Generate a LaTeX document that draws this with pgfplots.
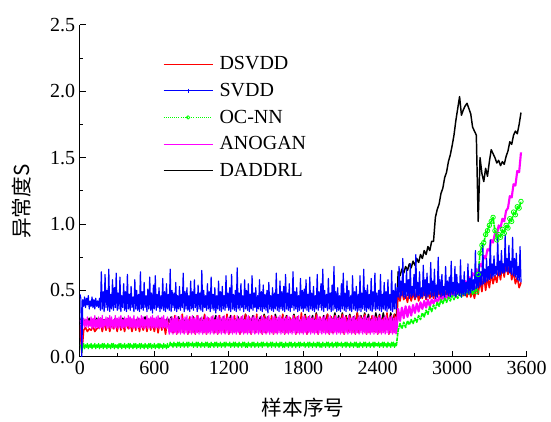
\documentclass[border=0pt]{standalone}
\usepackage{fontspec}
\setmainfont{Liberation Serif}
\newfontfamily\cjk{Noto Sans CJK SC}
\usepackage{pgfplots}
\usepackage{pgfplotstable}
\pgfplotsset{compat=1.18}

\definecolor{cDSVDD}{RGB}{255,0,0}
\definecolor{cSVDD}{RGB}{0,0,255}
\definecolor{cOCNN}{RGB}{0,255,0}
\definecolor{cANOGAN}{RGB}{255,0,255}
\definecolor{cDADDRL}{RGB}{0,0,0}

% DSVDD: one value per 15 samples (0, 15, ..., 3555)
\pgfplotstableread[row sep=\\, header=false]{
0.24\\ 0.03\\ 0.20\\ 0.22\\ 0.19\\ 0.21\\ 0.20\\ 0.23\\ 0.19\\ 0.21\\
0.22\\ 0.27\\ 0.19\\ 0.26\\ 0.20\\ 0.28\\ 0.19\\ 0.25\\ 0.21\\ 0.27\\
0.19\\ 0.28\\ 0.20\\ 0.26\\ 0.19\\ 0.27\\ 0.21\\ 0.25\\ 0.19\\ 0.27\\
0.20\\ 0.28\\ 0.19\\ 0.26\\ 0.20\\ 0.27\\ 0.19\\ 0.28\\ 0.20\\ 0.25\\
0.19\\ 0.27\\ 0.18\\ 0.28\\ 0.20\\ 0.26\\ 0.17\\ 0.28\\ 0.19\\ 0.27\\
0.18\\ 0.31\\ 0.17\\ 0.28\\ 0.19\\ 0.32\\ 0.18\\ 0.27\\ 0.17\\ 0.30\\
0.18\\ 0.29\\ 0.17\\ 0.31\\ 0.19\\ 0.28\\ 0.18\\ 0.32\\ 0.17\\ 0.29\\
0.19\\ 0.30\\ 0.18\\ 0.28\\ 0.17\\ 0.31\\ 0.19\\ 0.29\\ 0.18\\ 0.32\\
0.17\\ 0.29\\ 0.18\\ 0.31\\ 0.19\\ 0.28\\ 0.17\\ 0.30\\ 0.18\\ 0.32\\
0.18\\ 0.30\\ 0.17\\ 0.29\\ 0.18\\ 0.32\\ 0.19\\ 0.28\\ 0.17\\ 0.31\\
0.18\\ 0.29\\ 0.19\\ 0.31\\ 0.17\\ 0.30\\ 0.18\\ 0.28\\ 0.19\\ 0.32\\
0.17\\ 0.30\\ 0.18\\ 0.29\\ 0.19\\ 0.31\\ 0.17\\ 0.30\\ 0.18\\ 0.33\\
0.18\\ 0.31\\ 0.17\\ 0.30\\ 0.19\\ 0.29\\ 0.18\\ 0.32\\ 0.17\\ 0.30\\
0.19\\ 0.29\\ 0.18\\ 0.32\\ 0.17\\ 0.30\\ 0.18\\ 0.31\\ 0.19\\ 0.29\\
0.18\\ 0.32\\ 0.17\\ 0.30\\ 0.19\\ 0.31\\ 0.18\\ 0.29\\ 0.17\\ 0.33\\
0.18\\ 0.30\\ 0.19\\ 0.32\\ 0.17\\ 0.29\\ 0.18\\ 0.31\\ 0.19\\ 0.30\\
0.17\\ 0.31\\ 0.18\\ 0.29\\ 0.19\\ 0.33\\ 0.17\\ 0.30\\ 0.18\\ 0.32\\
0.19\\ 0.49\\ 0.42\\ 0.50\\ 0.43\\ 0.47\\ 0.41\\ 0.49\\ 0.42\\ 0.48\\
0.43\\ 0.50\\ 0.42\\ 0.48\\ 0.44\\ 0.51\\ 0.43\\ 0.49\\ 0.44\\ 0.50\\
0.44\\ 0.51\\ 0.45\\ 0.50\\ 0.44\\ 0.52\\ 0.46\\ 0.50\\ 0.45\\ 0.53\\
0.46\\ 0.52\\ 0.45\\ 0.54\\ 0.47\\ 0.51\\ 0.46\\ 0.55\\ 0.45\\ 0.52\\
0.45\\ 0.50\\ 0.44\\ 0.53\\ 0.47\\ 0.58\\ 0.49\\ 0.62\\ 0.50\\ 0.60\\
0.52\\ 0.63\\ 0.55\\ 0.61\\ 0.56\\ 0.66\\ 0.58\\ 0.70\\ 0.60\\ 0.72\\
0.62\\ 0.71\\ 0.58\\ 0.64\\ 0.55\\ 0.60\\ 0.52\\ 0.56\\
}\dsvdd

% SVDD: one value per 7.5 samples (0, 7.5, ..., 3555)
\pgfplotstableread[row sep=\\, header=false]{
0.47\\ 0.44\\ 0.00\\ 0.43\\ 0.38\\ 0.45\\ 0.37\\ 0.44\\ 0.39\\ 0.46\\ 0.36\\ 0.42\\ 0.38\\ 0.45\\ 0.37\\ 0.43\\ 0.36\\ 0.44\\ 0.38\\ 0.42\\
0.37\\ 0.44\\ 0.35\\ 0.64\\ 0.36\\ 0.49\\ 0.34\\ 0.62\\ 0.37\\ 0.50\\ 0.35\\ 0.66\\ 0.34\\ 0.47\\ 0.36\\ 0.58\\ 0.35\\ 0.52\\ 0.37\\ 0.63\\
0.35\\ 0.48\\ 0.36\\ 0.60\\ 0.34\\ 0.46\\ 0.37\\ 0.55\\ 0.35\\ 0.49\\ 0.34\\ 0.62\\ 0.36\\ 0.47\\ 0.35\\ 0.53\\ 0.37\\ 0.45\\ 0.34\\ 0.58\\
0.36\\ 0.50\\ 0.35\\ 0.47\\ 0.34\\ 0.64\\ 0.36\\ 0.49\\ 0.35\\ 0.56\\ 0.37\\ 0.46\\ 0.34\\ 0.51\\ 0.36\\ 0.60\\ 0.35\\ 0.48\\ 0.33\\ 0.54\\
0.36\\ 0.61\\ 0.35\\ 0.47\\ 0.37\\ 0.52\\ 0.34\\ 0.46\\ 0.36\\ 0.59\\ 0.35\\ 0.49\\ 0.34\\ 0.55\\ 0.36\\ 0.47\\ 0.35\\ 0.66\\ 0.34\\ 0.50\\
0.37\\ 0.48\\ 0.35\\ 0.56\\ 0.34\\ 0.46\\ 0.36\\ 0.53\\ 0.35\\ 0.47\\ 0.37\\ 0.63\\ 0.34\\ 0.49\\ 0.36\\ 0.52\\ 0.35\\ 0.46\\ 0.34\\ 0.57\\
0.36\\ 0.49\\ 0.35\\ 0.58\\ 0.37\\ 0.47\\ 0.34\\ 0.54\\ 0.36\\ 0.48\\ 0.35\\ 0.65\\ 0.34\\ 0.50\\ 0.37\\ 0.46\\ 0.35\\ 0.55\\ 0.36\\ 0.49\\
0.34\\ 0.60\\ 0.36\\ 0.47\\ 0.35\\ 0.52\\ 0.33\\ 0.46\\ 0.36\\ 0.57\\ 0.35\\ 0.49\\ 0.34\\ 0.53\\ 0.36\\ 0.46\\ 0.35\\ 0.61\\ 0.37\\ 0.48\\
0.35\\ 0.52\\ 0.34\\ 0.62\\ 0.36\\ 0.47\\ 0.35\\ 0.50\\ 0.34\\ 0.67\\ 0.36\\ 0.48\\ 0.35\\ 0.55\\ 0.37\\ 0.46\\ 0.34\\ 0.58\\ 0.36\\ 0.50\\
0.35\\ 0.55\\ 0.34\\ 0.47\\ 0.36\\ 0.61\\ 0.35\\ 0.48\\ 0.37\\ 0.52\\ 0.34\\ 0.46\\ 0.36\\ 0.58\\ 0.35\\ 0.49\\ 0.34\\ 0.54\\ 0.36\\ 0.47\\
0.35\\ 0.50\\ 0.33\\ 0.56\\ 0.36\\ 0.46\\ 0.35\\ 0.52\\ 0.34\\ 0.48\\ 0.36\\ 0.63\\ 0.35\\ 0.47\\ 0.34\\ 0.57\\ 0.36\\ 0.49\\ 0.35\\ 0.53\\
0.34\\ 0.62\\ 0.36\\ 0.48\\ 0.35\\ 0.55\\ 0.34\\ 0.47\\ 0.37\\ 0.64\\ 0.35\\ 0.49\\ 0.36\\ 0.52\\ 0.34\\ 0.46\\ 0.35\\ 0.59\\ 0.36\\ 0.50\\
0.34\\ 0.51\\ 0.36\\ 0.58\\ 0.35\\ 0.47\\ 0.34\\ 0.60\\ 0.36\\ 0.48\\ 0.35\\ 0.53\\ 0.34\\ 0.46\\ 0.36\\ 0.62\\ 0.35\\ 0.49\\ 0.37\\ 0.55\\
0.35\\ 0.66\\ 0.34\\ 0.50\\ 0.37\\ 0.47\\ 0.35\\ 0.59\\ 0.36\\ 0.48\\ 0.34\\ 0.54\\ 0.35\\ 0.68\\ 0.36\\ 0.49\\ 0.34\\ 0.52\\ 0.35\\ 0.46\\
0.34\\ 0.55\\ 0.36\\ 0.63\\ 0.35\\ 0.48\\ 0.34\\ 0.57\\ 0.36\\ 0.50\\ 0.35\\ 0.46\\ 0.34\\ 0.61\\ 0.36\\ 0.49\\ 0.35\\ 0.53\\ 0.34\\ 0.47\\
0.35\\ 0.61\\ 0.34\\ 0.48\\ 0.36\\ 0.66\\ 0.35\\ 0.50\\ 0.34\\ 0.54\\ 0.36\\ 0.47\\ 0.35\\ 0.59\\ 0.34\\ 0.49\\ 0.36\\ 0.63\\ 0.35\\ 0.48\\
0.36\\ 0.50\\ 0.35\\ 0.62\\ 0.34\\ 0.47\\ 0.36\\ 0.56\\ 0.35\\ 0.49\\ 0.34\\ 0.58\\ 0.36\\ 0.47\\ 0.35\\ 0.65\\ 0.34\\ 0.50\\ 0.36\\ 0.55\\
0.36\\ 0.52\\ 0.45\\ 0.68\\ 0.44\\ 0.57\\ 0.46\\ 0.74\\ 0.45\\ 0.55\\ 0.44\\ 0.66\\ 0.46\\ 0.58\\ 0.44\\ 0.70\\ 0.45\\ 0.53\\ 0.46\\ 0.62\\
0.44\\ 0.77\\ 0.45\\ 0.56\\ 0.46\\ 0.64\\ 0.44\\ 0.52\\ 0.45\\ 0.69\\ 0.46\\ 0.58\\ 0.44\\ 0.63\\ 0.45\\ 0.55\\ 0.47\\ 0.71\\ 0.45\\ 0.57\\
0.46\\ 0.66\\ 0.44\\ 0.54\\ 0.45\\ 0.75\\ 0.47\\ 0.58\\ 0.45\\ 0.62\\ 0.46\\ 0.53\\ 0.45\\ 0.68\\ 0.47\\ 0.57\\ 0.46\\ 0.60\\ 0.45\\ 0.72\\
0.47\\ 0.56\\ 0.46\\ 0.68\\ 0.45\\ 0.62\\ 0.47\\ 0.55\\ 0.46\\ 0.73\\ 0.45\\ 0.58\\ 0.47\\ 0.64\\ 0.46\\ 0.56\\ 0.48\\ 0.70\\ 0.47\\ 0.59\\
0.48\\ 0.66\\ 0.50\\ 0.58\\ 0.49\\ 0.80\\ 0.51\\ 0.62\\ 0.52\\ 0.70\\ 0.53\\ 0.64\\ 0.54\\ 0.85\\ 0.55\\ 0.66\\ 0.56\\ 0.74\\ 0.57\\ 0.68\\
0.58\\ 0.88\\ 0.59\\ 0.70\\ 0.60\\ 0.76\\ 0.61\\ 0.68\\ 0.62\\ 0.90\\ 0.61\\ 0.72\\ 0.62\\ 0.80\\ 0.63\\ 0.70\\ 0.63\\ 0.92\\ 0.64\\ 0.74\\
0.64\\ 0.84\\ 0.63\\ 0.72\\ 0.62\\ 0.90\\ 0.61\\ 0.74\\ 0.60\\ 0.78\\ 0.58\\ 0.68\\ 0.57\\ 0.83\\ 0.56\\
}\svdd

% OC-NN up to sample 2550: one value per 7.5 samples
\pgfplotstableread[row sep=\\, header=false]{
0.09\\ 0.08\\ 0.03\\ 0.07\\ 0.10\\ 0.06\\ 0.09\\ 0.07\\ 0.10\\ 0.06\\ 0.09\\ 0.07\\ 0.10\\ 0.06\\ 0.09\\ 0.07\\ 0.10\\ 0.06\\ 0.09\\ 0.07\\
0.10\\ 0.06\\ 0.09\\ 0.07\\ 0.10\\ 0.06\\ 0.10\\ 0.07\\ 0.09\\ 0.06\\ 0.10\\ 0.07\\ 0.09\\ 0.06\\ 0.10\\ 0.07\\ 0.10\\ 0.06\\ 0.09\\ 0.07\\
0.09\\ 0.06\\ 0.10\\ 0.07\\ 0.10\\ 0.06\\ 0.09\\ 0.07\\ 0.10\\ 0.06\\ 0.09\\ 0.07\\ 0.10\\ 0.06\\ 0.10\\ 0.07\\ 0.09\\ 0.06\\ 0.10\\ 0.07\\
0.10\\ 0.06\\ 0.09\\ 0.07\\ 0.10\\ 0.06\\ 0.10\\ 0.07\\ 0.09\\ 0.06\\ 0.10\\ 0.07\\ 0.09\\ 0.06\\ 0.10\\ 0.07\\ 0.10\\ 0.06\\ 0.09\\ 0.07\\
0.10\\ 0.06\\ 0.09\\ 0.07\\ 0.10\\ 0.06\\ 0.10\\ 0.07\\ 0.09\\ 0.06\\ 0.10\\ 0.07\\ 0.09\\ 0.06\\ 0.10\\ 0.07\\ 0.08\\ 0.11\\ 0.08\\ 0.10\\
0.07\\ 0.11\\ 0.08\\ 0.10\\ 0.07\\ 0.11\\ 0.08\\ 0.11\\ 0.07\\ 0.10\\ 0.08\\ 0.11\\ 0.07\\ 0.10\\ 0.08\\ 0.11\\ 0.07\\ 0.11\\ 0.08\\ 0.10\\
0.08\\ 0.11\\ 0.07\\ 0.10\\ 0.08\\ 0.11\\ 0.07\\ 0.11\\ 0.08\\ 0.10\\ 0.07\\ 0.11\\ 0.08\\ 0.10\\ 0.07\\ 0.11\\ 0.08\\ 0.11\\ 0.07\\ 0.10\\
0.07\\ 0.11\\ 0.08\\ 0.10\\ 0.07\\ 0.11\\ 0.08\\ 0.11\\ 0.07\\ 0.10\\ 0.08\\ 0.11\\ 0.07\\ 0.10\\ 0.08\\ 0.11\\ 0.07\\ 0.11\\ 0.08\\ 0.10\\
0.08\\ 0.11\\ 0.07\\ 0.10\\ 0.08\\ 0.11\\ 0.07\\ 0.11\\ 0.08\\ 0.10\\ 0.07\\ 0.11\\ 0.08\\ 0.10\\ 0.07\\ 0.11\\ 0.08\\ 0.11\\ 0.07\\ 0.10\\
0.07\\ 0.11\\ 0.08\\ 0.10\\ 0.07\\ 0.11\\ 0.08\\ 0.11\\ 0.07\\ 0.10\\ 0.08\\ 0.11\\ 0.07\\ 0.10\\ 0.08\\ 0.11\\ 0.07\\ 0.11\\ 0.08\\ 0.10\\
0.08\\ 0.11\\ 0.07\\ 0.10\\ 0.08\\ 0.11\\ 0.07\\ 0.11\\ 0.08\\ 0.10\\ 0.07\\ 0.11\\ 0.08\\ 0.10\\ 0.07\\ 0.11\\ 0.08\\ 0.11\\ 0.07\\ 0.10\\
0.07\\ 0.11\\ 0.08\\ 0.10\\ 0.07\\ 0.11\\ 0.08\\ 0.11\\ 0.07\\ 0.10\\ 0.08\\ 0.11\\ 0.07\\ 0.10\\ 0.08\\ 0.11\\ 0.07\\ 0.11\\ 0.08\\ 0.10\\
0.08\\ 0.11\\ 0.07\\ 0.10\\ 0.08\\ 0.11\\ 0.07\\ 0.11\\ 0.08\\ 0.10\\ 0.07\\ 0.11\\ 0.08\\ 0.10\\ 0.07\\ 0.11\\ 0.08\\ 0.11\\ 0.07\\ 0.10\\
0.07\\ 0.11\\ 0.08\\ 0.10\\ 0.07\\ 0.11\\ 0.08\\ 0.11\\ 0.07\\ 0.10\\ 0.08\\ 0.11\\ 0.07\\ 0.10\\ 0.08\\ 0.11\\ 0.07\\ 0.11\\ 0.08\\ 0.10\\
0.08\\ 0.11\\ 0.07\\ 0.10\\ 0.08\\ 0.11\\ 0.07\\ 0.11\\ 0.08\\ 0.10\\ 0.07\\ 0.11\\ 0.08\\ 0.10\\ 0.07\\ 0.11\\ 0.08\\ 0.11\\ 0.07\\ 0.10\\
0.07\\ 0.11\\ 0.08\\ 0.10\\ 0.07\\ 0.11\\ 0.08\\ 0.11\\ 0.07\\ 0.10\\ 0.08\\ 0.11\\ 0.07\\ 0.10\\ 0.08\\ 0.11\\ 0.07\\ 0.11\\ 0.08\\ 0.10\\
0.08\\ 0.11\\ 0.07\\ 0.10\\ 0.08\\ 0.11\\ 0.07\\ 0.11\\ 0.08\\ 0.10\\ 0.07\\ 0.11\\ 0.08\\ 0.10\\ 0.07\\ 0.11\\ 0.08\\ 0.11\\ 0.07\\ 0.10\\
0.08\\
}\ocnnA

% OC-NN from sample 2550: one value per 15 samples
\pgfplotstableread[row sep=\\, header=false]{
0.08\\ 0.20\\ 0.25\\ 0.21\\ 0.26\\ 0.22\\ 0.27\\ 0.24\\ 0.28\\ 0.25\\
0.29\\ 0.26\\ 0.31\\ 0.28\\ 0.33\\ 0.30\\ 0.35\\ 0.32\\ 0.38\\ 0.34\\
0.39\\ 0.36\\ 0.41\\ 0.38\\ 0.43\\ 0.40\\ 0.44\\ 0.41\\ 0.45\\ 0.42\\
0.46\\ 0.43\\ 0.47\\ 0.44\\ 0.48\\ 0.45\\ 0.49\\ 0.46\\ 0.50\\ 0.47\\
0.51\\ 0.47\\ 0.52\\ 0.49\\ 0.62\\ 0.78\\ 0.84\\ 0.86\\ 0.92\\ 0.95\\
0.99\\ 1.02\\ 1.05\\ 0.95\\ 0.88\\ 0.92\\ 0.90\\ 0.96\\ 0.93\\ 0.99\\
0.97\\ 1.04\\ 1.02\\ 1.09\\ 1.07\\ 1.13\\ 1.12\\ 1.17\\
}\ocnnB

% ANOGAN up to sample 2550: one value per 7.5 samples
\pgfplotstableread[row sep=\\, header=false]{
0.28\\ 0.26\\ 0.04\\ 0.25\\ 0.29\\ 0.22\\ 0.28\\ 0.23\\ 0.30\\ 0.22\\ 0.27\\ 0.23\\ 0.30\\ 0.21\\ 0.29\\ 0.22\\ 0.31\\ 0.21\\ 0.28\\ 0.22\\
0.30\\ 0.21\\ 0.29\\ 0.22\\ 0.31\\ 0.21\\ 0.28\\ 0.23\\ 0.30\\ 0.21\\ 0.29\\ 0.22\\ 0.31\\ 0.21\\ 0.30\\ 0.22\\ 0.28\\ 0.21\\ 0.31\\ 0.22\\
0.29\\ 0.21\\ 0.30\\ 0.22\\ 0.31\\ 0.21\\ 0.28\\ 0.22\\ 0.30\\ 0.21\\ 0.29\\ 0.23\\ 0.31\\ 0.21\\ 0.30\\ 0.22\\ 0.29\\ 0.21\\ 0.31\\ 0.22\\
0.28\\ 0.21\\ 0.30\\ 0.22\\ 0.29\\ 0.21\\ 0.31\\ 0.22\\ 0.30\\ 0.21\\ 0.28\\ 0.22\\ 0.31\\ 0.21\\ 0.29\\ 0.22\\ 0.30\\ 0.21\\ 0.31\\ 0.22\\
0.29\\ 0.21\\ 0.30\\ 0.22\\ 0.31\\ 0.21\\ 0.29\\ 0.22\\ 0.30\\ 0.21\\ 0.31\\ 0.22\\ 0.28\\ 0.21\\ 0.30\\ 0.22\\ 0.17\\ 0.29\\ 0.18\\ 0.30\\
0.17\\ 0.29\\ 0.18\\ 0.31\\ 0.17\\ 0.30\\ 0.18\\ 0.28\\ 0.17\\ 0.31\\ 0.18\\ 0.29\\ 0.17\\ 0.30\\ 0.18\\ 0.31\\ 0.17\\ 0.28\\ 0.18\\ 0.30\\
0.17\\ 0.31\\ 0.18\\ 0.29\\ 0.17\\ 0.30\\ 0.18\\ 0.31\\ 0.17\\ 0.29\\ 0.18\\ 0.30\\ 0.17\\ 0.28\\ 0.18\\ 0.31\\ 0.17\\ 0.30\\ 0.18\\ 0.29\\
0.17\\ 0.30\\ 0.18\\ 0.31\\ 0.17\\ 0.28\\ 0.18\\ 0.30\\ 0.17\\ 0.31\\ 0.18\\ 0.29\\ 0.17\\ 0.30\\ 0.18\\ 0.31\\ 0.17\\ 0.29\\ 0.18\\ 0.30\\
0.17\\ 0.29\\ 0.18\\ 0.31\\ 0.17\\ 0.30\\ 0.18\\ 0.28\\ 0.17\\ 0.31\\ 0.18\\ 0.29\\ 0.17\\ 0.30\\ 0.18\\ 0.31\\ 0.17\\ 0.28\\ 0.18\\ 0.30\\
0.17\\ 0.31\\ 0.18\\ 0.29\\ 0.17\\ 0.30\\ 0.18\\ 0.31\\ 0.17\\ 0.29\\ 0.18\\ 0.30\\ 0.17\\ 0.28\\ 0.18\\ 0.31\\ 0.17\\ 0.30\\ 0.18\\ 0.29\\
0.17\\ 0.30\\ 0.18\\ 0.31\\ 0.17\\ 0.28\\ 0.18\\ 0.30\\ 0.17\\ 0.31\\ 0.18\\ 0.29\\ 0.17\\ 0.30\\ 0.18\\ 0.31\\ 0.17\\ 0.29\\ 0.18\\ 0.30\\
0.17\\ 0.29\\ 0.18\\ 0.31\\ 0.17\\ 0.30\\ 0.18\\ 0.28\\ 0.17\\ 0.31\\ 0.18\\ 0.29\\ 0.17\\ 0.30\\ 0.18\\ 0.31\\ 0.17\\ 0.28\\ 0.18\\ 0.30\\
0.17\\ 0.31\\ 0.18\\ 0.29\\ 0.17\\ 0.30\\ 0.18\\ 0.31\\ 0.17\\ 0.29\\ 0.18\\ 0.30\\ 0.17\\ 0.28\\ 0.18\\ 0.31\\ 0.17\\ 0.30\\ 0.18\\ 0.29\\
0.17\\ 0.30\\ 0.18\\ 0.31\\ 0.17\\ 0.28\\ 0.18\\ 0.30\\ 0.17\\ 0.31\\ 0.18\\ 0.29\\ 0.17\\ 0.30\\ 0.18\\ 0.31\\ 0.17\\ 0.29\\ 0.18\\ 0.30\\
0.17\\ 0.29\\ 0.18\\ 0.31\\ 0.17\\ 0.30\\ 0.18\\ 0.28\\ 0.17\\ 0.31\\ 0.18\\ 0.29\\ 0.17\\ 0.30\\ 0.18\\ 0.31\\ 0.17\\ 0.28\\ 0.18\\ 0.30\\
0.17\\ 0.31\\ 0.18\\ 0.29\\ 0.17\\ 0.30\\ 0.18\\ 0.31\\ 0.17\\ 0.29\\ 0.18\\ 0.30\\ 0.17\\ 0.28\\ 0.18\\ 0.31\\ 0.17\\ 0.30\\ 0.18\\ 0.29\\
0.17\\ 0.30\\ 0.18\\ 0.31\\ 0.17\\ 0.28\\ 0.18\\ 0.30\\ 0.17\\ 0.31\\ 0.18\\ 0.29\\ 0.17\\ 0.30\\ 0.18\\ 0.31\\ 0.17\\ 0.29\\ 0.18\\ 0.30\\
0.17\\
}\anoganA

% ANOGAN from sample 2550: one value per 15 samples
\pgfplotstableread[row sep=\\, header=false]{
0.17\\ 0.36\\ 0.27\\ 0.37\\ 0.29\\ 0.38\\ 0.30\\ 0.38\\ 0.31\\ 0.39\\
0.33\\ 0.40\\ 0.34\\ 0.41\\ 0.36\\ 0.42\\ 0.37\\ 0.43\\ 0.38\\ 0.43\\
0.40\\ 0.44\\ 0.41\\ 0.45\\ 0.42\\ 0.46\\ 0.43\\ 0.46\\ 0.44\\ 0.47\\
0.46\\ 0.50\\ 0.48\\ 0.52\\ 0.50\\ 0.54\\ 0.52\\ 0.57\\ 0.55\\ 0.60\\
0.58\\ 0.63\\ 0.61\\ 0.66\\ 0.64\\ 0.70\\ 0.68\\ 0.76\\ 0.74\\ 0.81\\
0.80\\ 0.88\\ 0.86\\ 0.93\\ 0.91\\ 0.99\\ 0.97\\ 1.04\\ 1.02\\ 1.10\\
1.12\\ 1.21\\ 1.20\\ 1.30\\ 1.29\\ 1.40\\ 1.39\\ 1.54\\
}\anoganB

% DADDRL: one value per 15 samples (0, 15, ..., 3555)
\pgfplotstableread[row sep=\\, header=false]{
0.26\\ 0.30\\ 0.25\\ 0.28\\ 0.26\\ 0.29\\ 0.25\\ 0.28\\ 0.26\\ 0.29\\
0.25\\ 0.29\\ 0.26\\ 0.28\\ 0.25\\ 0.29\\ 0.26\\ 0.27\\ 0.25\\ 0.29\\
0.26\\ 0.28\\ 0.25\\ 0.29\\ 0.26\\ 0.28\\ 0.25\\ 0.29\\ 0.26\\ 0.28\\
0.25\\ 0.29\\ 0.26\\ 0.28\\ 0.25\\ 0.30\\ 0.26\\ 0.28\\ 0.25\\ 0.29\\
0.26\\ 0.28\\ 0.25\\ 0.29\\ 0.26\\ 0.28\\ 0.25\\ 0.29\\ 0.26\\ 0.30\\
0.25\\ 0.29\\ 0.26\\ 0.30\\ 0.25\\ 0.28\\ 0.26\\ 0.29\\ 0.25\\ 0.29\\
0.26\\ 0.30\\ 0.25\\ 0.29\\ 0.26\\ 0.29\\ 0.25\\ 0.31\\ 0.26\\ 0.29\\
0.25\\ 0.29\\ 0.26\\ 0.31\\ 0.25\\ 0.29\\ 0.26\\ 0.30\\ 0.25\\ 0.29\\
0.26\\ 0.31\\ 0.25\\ 0.29\\ 0.26\\ 0.30\\ 0.25\\ 0.29\\ 0.26\\ 0.32\\
0.25\\ 0.29\\ 0.26\\ 0.31\\ 0.25\\ 0.29\\ 0.26\\ 0.30\\ 0.25\\ 0.32\\
0.26\\ 0.30\\ 0.25\\ 0.29\\ 0.26\\ 0.32\\ 0.25\\ 0.29\\ 0.26\\ 0.31\\
0.25\\ 0.31\\ 0.26\\ 0.29\\ 0.25\\ 0.32\\ 0.26\\ 0.30\\ 0.25\\ 0.29\\
0.26\\ 0.32\\ 0.25\\ 0.30\\ 0.26\\ 0.31\\ 0.25\\ 0.33\\ 0.26\\ 0.29\\
0.25\\ 0.31\\ 0.26\\ 0.32\\ 0.25\\ 0.30\\ 0.26\\ 0.33\\ 0.25\\ 0.31\\
0.26\\ 0.33\\ 0.25\\ 0.31\\ 0.26\\ 0.32\\ 0.25\\ 0.30\\ 0.26\\ 0.33\\
0.25\\ 0.31\\ 0.26\\ 0.33\\ 0.25\\ 0.32\\ 0.26\\ 0.30\\ 0.25\\ 0.33\\
0.26\\ 0.32\\ 0.25\\ 0.33\\ 0.26\\ 0.31\\ 0.25\\ 0.33\\ 0.26\\ 0.32\\
0.29\\ 0.64\\ 0.61\\ 0.66\\ 0.63\\ 0.68\\ 0.65\\ 0.70\\ 0.67\\ 0.72\\
0.69\\ 0.74\\ 0.71\\ 0.77\\ 0.74\\ 0.80\\ 0.77\\ 0.83\\ 0.80\\ 0.87\\
0.87\\ 1.05\\ 1.11\\ 1.15\\ 1.23\\ 1.27\\ 1.35\\ 1.39\\ 1.47\\ 1.52\\
1.59\\ 1.67\\ 1.78\\ 1.87\\ 1.96\\ 1.82\\ 1.86\\ 1.89\\ 1.91\\ 1.87\\
1.83\\ 1.73\\ 1.70\\ 1.67\\ 1.02\\ 1.50\\ 1.38\\ 1.32\\ 1.42\\ 1.36\\
1.47\\ 1.56\\ 1.53\\ 1.50\\ 1.46\\ 1.48\\ 1.44\\ 1.47\\ 1.45\\ 1.51\\
1.55\\ 1.62\\ 1.60\\ 1.67\\ 1.70\\ 1.68\\ 1.75\\ 1.84\\
}\daddrl

\begin{document}
\begin{tikzpicture}
\begin{axis}[
  scale only axis,
  width=335.25pt, height=249pt,
  xmin=0, xmax=3600, ymin=0, ymax=2.5,
  axis x line=bottom, axis y line=left,
  axis line style={-, line width=0.75pt, black},
  xtick={0,600,...,3600}, ytick={0,0.5,...,2.5},
  minor x tick num=1, minor y tick num=1,
  tick align=inside,
  major tick length=4.5pt, minor tick length=2.5pt,
  every tick/.style={black, line width=0.75pt},
  /pgf/number format/assume math mode=true,
  x tick label style={/pgf/number format/.cd, fixed, set thousands separator={}},
  y tick label style={/pgf/number format/.cd, fixed, fixed zerofill, precision=1},
  tick label style={font=\fontsize{15}{18}\selectfont},
  xlabel={\cjk 样本序号},
  ylabel={\cjk 异常度S},
  xlabel style={font=\fontsize{15.5}{18}\selectfont, at={(axis description cs:0.5,-0.154)}, anchor=center},
  ylabel style={font=\fontsize{15.5}{18}\selectfont, at={(axis description cs:-0.13,0.467)}, anchor=center},
  legend style={draw=none, fill=none, at={(axis description cs:0.1857,0.91)}, anchor=north west,
    inner sep=0pt, font=\fontsize{15}{18}\selectfont, row sep=6.6pt, column sep=4pt,
    nodes={inner sep=1pt}},
  legend cell align=left,
  legend image code/.code={\draw[mark repeat=2, mark phase=2, #1]
    plot coordinates {(0pt,0pt) (18.4pt,0pt) (36.75pt,0pt)};},
  table/y index=0,
  line join=round,
]
% series drawn back to front
\addplot[cDADDRL, line width=1.1pt, forget plot] table[x expr=\coordindex*15] {\daddrl};
\addplot[cDSVDD, line width=1.2pt, forget plot] table[x expr=\coordindex*15] {\dsvdd};
\addplot[cANOGAN, line width=0.9pt, forget plot] table[x expr=\coordindex*7.5] {\anoganA};
\addplot[cANOGAN, line width=1.6pt, forget plot] table[x expr=2550+\coordindex*15] {\anoganB};
\addplot[cOCNN, line width=0.9pt, forget plot] table[x expr=\coordindex*7.5] {\ocnnA};
\addplot[cOCNN, line width=1.2pt, dash pattern=on 3pt off 0.6pt,
  mark=o, mark size=1.7pt, mark repeat=1, mark phase=44,
  mark options={solid, line width=0.6pt}, forget plot] table[x expr=2550+\coordindex*15] {\ocnnB};
\addplot[cSVDD, line width=0.9pt, forget plot] table[x expr=\coordindex*7.5] {\svdd};

\addlegendimage{cDSVDD, line width=0.6pt}
\addlegendentry{DSVDD}
\addlegendimage{cSVDD, line width=0.6pt, mark=|, mark size=1.5pt}
\addlegendentry{SVDD}
\addlegendimage{cOCNN, line width=0.6pt, densely dotted, mark=o, mark size=1.3pt, mark options={solid}}
\addlegendentry{OC-NN}
\addlegendimage{cANOGAN, line width=0.6pt}
\addlegendentry{ANOGAN}
\addlegendimage{cDADDRL, line width=0.6pt}
\addlegendentry{DADDRL}
\end{axis}
\path (-60pt,-48pt) rectangle (353.25pt,267.75pt);
\end{tikzpicture}
\end{document}
